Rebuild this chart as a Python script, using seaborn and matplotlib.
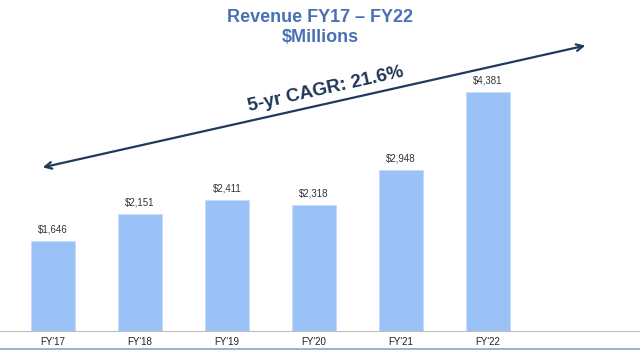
import matplotlib
matplotlib.use("Agg")
import matplotlib.pyplot as plt
import pandas as pd
import seaborn as sns

# data
years = ["FY'17", "FY'18", "FY'19", "FY'20", "FY'21", "FY'22"]
revenue = [1646, 2151, 2411, 2318, 2948, 4381]

sns.set_style('white')
plt.rcParams['font.family'] = ['Liberation Sans', 'DejaVu Sans']

df = pd.DataFrame({'year': years, 'revenue': revenue})

fig = plt.figure(figsize=(6.4, 3.53), dpi=100)
ax = fig.add_axes([0, 22/353, 1, 331/353])

sns.barplot(data=df, x='year', y='revenue', color='#9BC2F7', saturation=1,
            width=0.5, edgecolor='#C5DCFB', linewidth=0.6, ax=ax)

for i, v in enumerate(revenue):
    ax.text(i, v + 120, f"${v:,}", ha='center', va='bottom', fontsize=7, color='#333333')

ax.set_xlim(-53/87, (640-53)/87)
ax.set_ylim(0, 331/0.0545)
ax.set_xlabel('')
ax.set_ylabel('')
ax.set_yticks([])
ax.tick_params(axis='x', length=0, labelsize=7, pad=4, colors='#222222')
for s in ['top', 'right', 'left']:
    ax.spines[s].set_visible(False)
ax.spines['bottom'].set_color('#BDBDBD')
ax.spines['bottom'].set_linewidth(0.8)

# CAGR arrow
ax.annotate('', xy=(6.15, 5248), xytext=(-0.15, 2991),
            arrowprops=dict(arrowstyle='<->', color='#203A5C', lw=1.6,
                            mutation_scale=12))
ax.text(3.14, 4440, "5-yr CAGR: 21.6%", rotation=12.6, ha='center', va='center',
        fontsize=13.5, fontweight='bold', color='#1F3556')

# title
fig.text(0.5, 1 - 17/353, "Revenue FY17 – FY22", ha='center', va='center',
         fontsize=13, fontweight='bold', color='#4A70B4')
fig.text(0.5, 1 - 38/353, "$Millions", ha='center', va='center',
         fontsize=13, fontweight='bold', color='#4A70B4')

# bottom rule
fig.add_artist(plt.Line2D([0, 1], [1 - 349/353, 1 - 349/353], color='#8FA3BF', lw=1.2))

fig.savefig('out.png', dpi=100)
